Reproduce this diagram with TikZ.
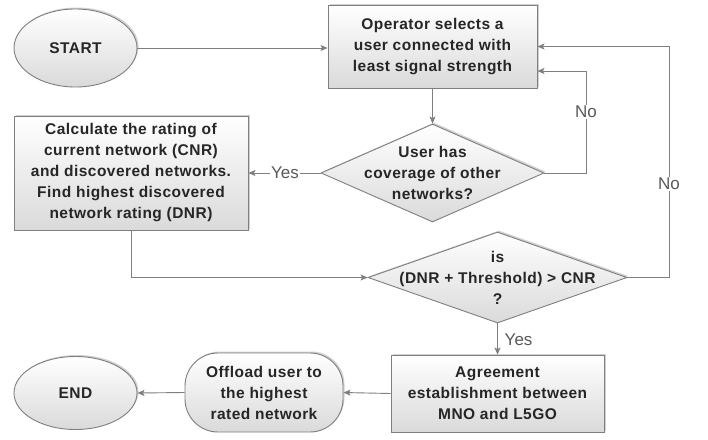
\documentclass[tikz,border=0pt]{standalone}
\usepackage{fontspec}
\setmainfont{Liberation Sans}
\newfontfamily\boxfont[LetterSpace=3]{Liberation Sans}
\usetikzlibrary{shapes.geometric,arrows.meta,shadows,calc}
\definecolor{edgegray}{HTML}{7F7F7F}
\definecolor{txtgray}{HTML}{262626}
\definecolor{lblgray}{HTML}{595959}
\definecolor{fillbot}{HTML}{DADADA}
\tikzset{
  shp/.style={draw=edgegray, line width=0.9pt, top color=white, bottom color=fillbot,
    drop shadow={shadow xshift=1.5pt, shadow yshift=1.5pt, fill=black, opacity=0.18},
    inner sep=0pt, align=center, font=\boxfont\bfseries\fontsize{15.5}{21}\selectfont, text=txtgray},
  boxnode/.style={shp, rectangle},
  ovalnode/.style={shp, ellipse},
  dianode/.style={shp, diamond},
  roundnode/.style={shp, rectangle, rounded corners=33pt},
  txtnode/.style={align=center, font=\boxfont\bfseries\fontsize{15.5}{21}\selectfont, text=txtgray, inner sep=0pt},
  conn/.style={draw=edgegray, line width=0.9pt, -{Stealth[length=7pt,width=6pt,inset=1.5pt]}},
  lbl/.style={font=\fontsize{17}{20}\selectfont, text=lblgray, fill=white, inner sep=1.5pt}
}
\begin{document}
\begin{tikzpicture}[x=1pt,y=-1pt]
\useasboundingbox[fill=white] (0,0) rectangle (708,439);

\node[ovalnode, minimum width=123pt, minimum height=78pt] (start) at (75.5,48) {START};
\node[boxnode, minimum width=209pt, minimum height=83pt] (op) at (432.5,46.5) {Operator selects a\\user connected with\\least signal strength};
\node[dianode, minimum width=223pt, minimum height=98pt] (d1) at (432.5,173) {};
\node[txtnode] (d1t) at (d1.center) {User has\\coverage of other\\networks?};
\node[boxnode, minimum width=234pt, minimum height=114pt] (calc) at (131,173) {Calculate the rating of\\current network (CNR)\\and discovered networks.\\Find highest discovered\\network rating (DNR)};
\node[dianode, minimum width=259pt, minimum height=91pt] (d2) at (497.5,277.5) {};
\node[txtnode] (d2t) at (d2.center) {is\\(DNR + Threshold) > CNR\\?};
\node[boxnode, minimum width=213pt, minimum height=77pt] (agr) at (497.5,393.5) {Agreement\\establishment between\\MNO and L5GO};
\node[roundnode, minimum width=158pt, minimum height=79pt] (off) at (264,392.5) {Offload user to\\the highest\\rated network};
\node[ovalnode, minimum width=123pt, minimum height=73pt] (end) at (75.5,393) {END};

\coordinate (k1) at (586,71);
\coordinate (k2) at (669,46.5);

\draw[conn] (start.east) -- (start.east -| op.west);
\draw[conn] (op.south) -- (d1.north);
\draw[conn] (d1.east) -| (k1) -- (k1 -| op.east);
\node[lbl] (no1) at (586,112) {No};
\draw[conn] (d2.east) -| (k2) -- (op.east);
\node[lbl] (no2) at (669,184) {No};
\draw[conn] (d1.west) -- (calc.east);
\node[lbl] (yes1) at (285,173) {Yes};
\draw[conn] (calc.south) |- (d2.west);
\draw[conn] (d2.south) -- (agr.north);
\node[lbl, fill=none, anchor=west] (yes2) at (503,340) {Yes};
\draw[conn] (agr.west) -- (off.east);
\draw[conn] (off.west) -- (end.east);
\end{tikzpicture}
\end{document}
